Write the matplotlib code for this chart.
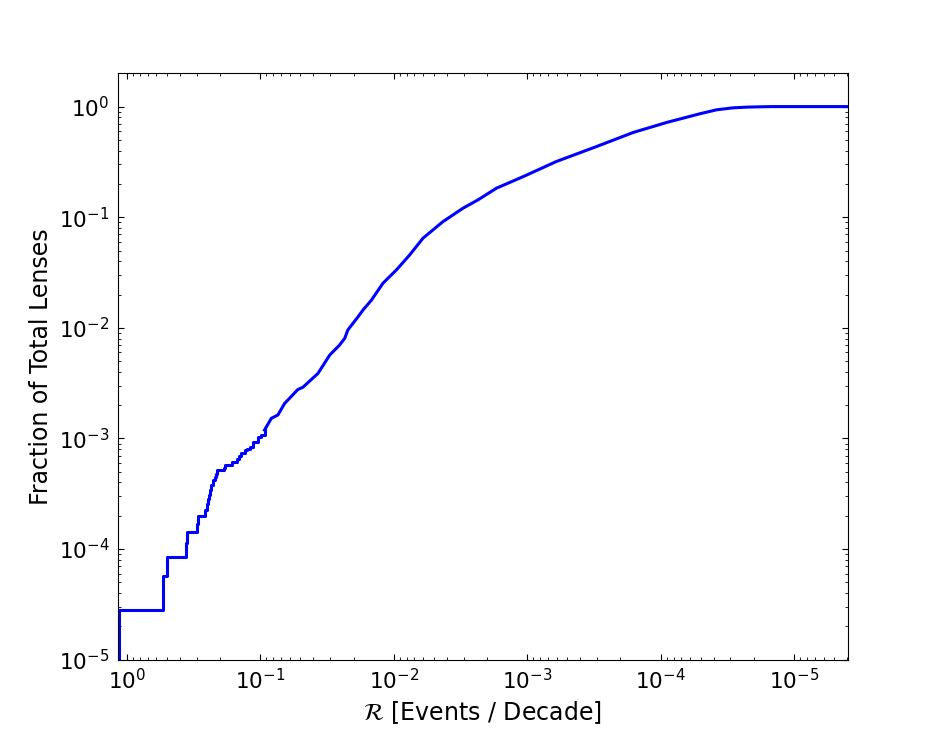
import numpy as np
import matplotlib
matplotlib.use('Agg')
import matplotlib.pyplot as plt

# early part of the curve (few lenses, drawn as steps)
rate_steps = [1.15, 1.15, 0.537, 0.50, 0.363, 0.355, 0.299, 0.292, 0.258,
              0.251, 0.248, 0.244, 0.24, 0.233, 0.226, 0.22, 0.215, 0.211,
              0.188, 0.183, 0.162, 0.15, 0.145, 0.14, 0.131, 0.125, 0.12,
              0.113, 0.104, 0.098, 0.093]
frac_steps = [1e-6, 2.83e-5, 5.7e-5, 8.55e-5, 1.135e-4, 1.42e-4, 1.70e-4,
              1.98e-4, 2.27e-4, 2.55e-4, 2.83e-4, 3.1e-4, 3.4e-4, 3.8e-4,
              4.25e-4, 4.5e-4, 4.8e-4, 5.15e-4, 5.45e-4, 5.75e-4, 6.1e-4,
              6.5e-4, 7.0e-4, 7.4e-4, 7.9e-4, 8.1e-4, 8.4e-4, 9.3e-4,
              1.03e-3, 1.08e-3, 1.19e-3]

# rest of the cumulative curve
rate_tail = [0.093, 0.0827, 0.0738, 0.0658, 0.0523, 0.048, 0.037, 0.0302,
             0.0255, 0.0233, 0.0221, 0.0202, 0.0185, 0.017, 0.0147, 0.01205,
             0.00955, 0.0076, 0.00604, 0.00428, 0.00303, 0.00234, 0.0017,
             0.00107, 6.04e-4, 3.03e-4, 1.61e-4, 9.05e-5, 5.09e-5, 3.82e-5,
             2.86e-5, 2.2e-5, 1.5e-5, 3e-6]
frac_tail = [1.19e-3, 1.52e-3, 1.63e-3, 2.07e-3, 2.77e-3, 2.9e-3, 3.87e-3,
             5.67e-3, 6.98e-3, 8.04e-3, 9.55e-3, 1.10e-2, 1.26e-2, 1.45e-2,
             1.78e-2, 2.53e-2, 3.34e-2, 4.56e-2, 6.46e-2, 9.12e-2, 0.1206,
             0.1434, 0.183, 0.233, 0.319, 0.435, 0.583, 0.718, 0.861, 0.935,
             0.975, 0.99, 1.0, 1.0]

plt.rcParams['axes.unicode_minus'] = False
plt.rcParams['xtick.direction'] = 'in'
plt.rcParams['ytick.direction'] = 'in'
plt.rcParams['xtick.top'] = True
plt.rcParams['ytick.right'] = True
plt.rcParams['xtick.major.size'] = 4
plt.rcParams['ytick.major.size'] = 4
plt.rcParams['xtick.minor.size'] = 2
plt.rcParams['ytick.minor.size'] = 2
plt.rcParams['xtick.major.pad'] = 6
plt.rcParams['ytick.major.pad'] = 6

fig = plt.figure(figsize=(9.42, 7.33), dpi=100)
ax = fig.add_subplot(111)
plt.subplots_adjust(left=0.125, right=0.9, top=0.9, bottom=0.1)

ax.plot(rate_steps, frac_steps, color='b', lw=2.2, drawstyle='steps-post')
ax.plot(rate_tail, frac_tail, color='b', lw=2.2)

ax.set_xscale('log')
ax.set_yscale('log')
ax.set_xlim(1.17, 3.96e-6)
ax.set_ylim(1e-5, 2)

ax.tick_params(labelsize=15.5)
ax.set_xlabel(r'$\mathcal{R}$ [Events / Decade]', fontsize=17)
ax.set_ylabel('Fraction of Total Lenses', fontsize=17)

plt.savefig('out.png', dpi=100)
